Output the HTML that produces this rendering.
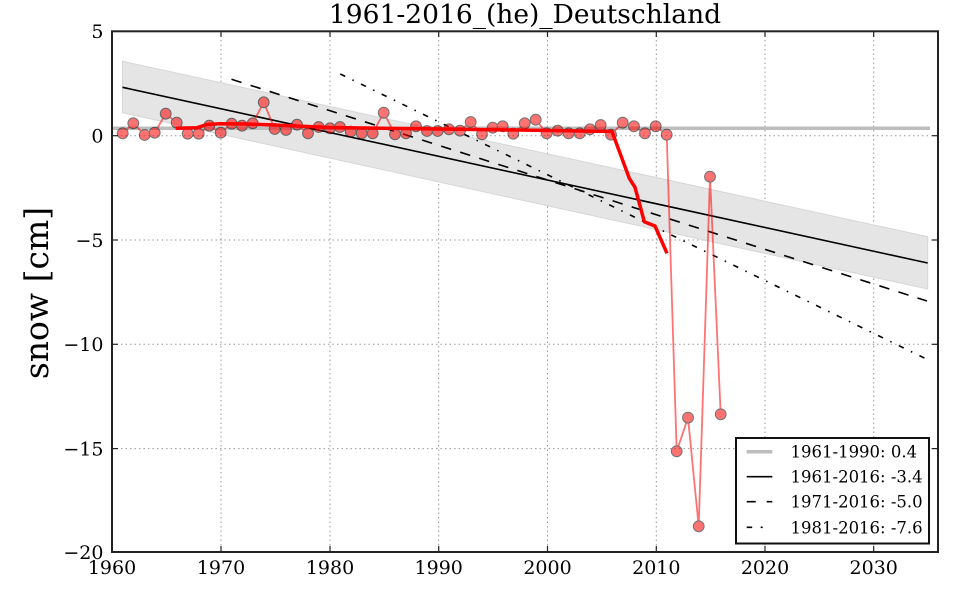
<!DOCTYPE html>
<html><head><meta charset="utf-8"><style>
html,body{margin:0;padding:0;background:#fff;width:960px;height:600px;overflow:hidden}
svg{display:block}
text{font-family:"DejaVu Serif","Liberation Serif",serif;fill:#000}
</style></head><body>
<svg width="960" height="600" viewBox="0 0 960 600" xmlns="http://www.w3.org/2000/svg">
<rect width="960" height="600" fill="#fff"/>
<!-- grid -->
<g stroke="#9a9a9a" stroke-width="1" stroke-dasharray="1.5 3" fill="none">
<line x1="221" y1="31" x2="221" y2="552"/>
<line x1="330" y1="31" x2="330" y2="552"/>
<line x1="438.7" y1="31" x2="438.7" y2="552"/>
<line x1="547.5" y1="31" x2="547.5" y2="552"/>
<line x1="656.3" y1="31" x2="656.3" y2="552"/>
<line x1="765" y1="31" x2="765" y2="552"/>
<line x1="873.7" y1="31" x2="873.7" y2="552"/>
<line x1="112" y1="135.7" x2="938" y2="135.7"/>
<line x1="112" y1="240" x2="938" y2="240"/>
<line x1="112" y1="344.3" x2="938" y2="344.3"/>
<line x1="112" y1="448.6" x2="938" y2="448.6"/>
</g>
<!-- confidence band -->
<polygon points="122.5,61.3 927.7,236.7 927.7,289 122.5,112.7" fill="#e5e5e5" stroke="#d6d6d6" stroke-width="1"/>
<!-- 1961-1990 mean -->
<line x1="112" y1="128.3" x2="930" y2="128.3" stroke="#bdbdbd" stroke-width="3.5"/>
<!-- trends -->
<line x1="122.5" y1="87.3" x2="927.7" y2="263" stroke="#000" stroke-width="1.6"/>
<line x1="231.5" y1="79.3" x2="927" y2="301" stroke="#000" stroke-width="1.6" stroke-dasharray="10.5 9.5"/>
<line x1="340.3" y1="74" x2="927" y2="359.3" stroke="#000" stroke-width="1.6" stroke-dasharray="5.5 8 1.5 8"/>
<!-- data -->
<g opacity="0.55">
<polyline fill="none" stroke="#ff0000" stroke-width="1.8" points="122.7,133.3 133.3,123.3 144.7,135 154.7,132.7 165.7,113.7 176.7,122.7 187.7,133.7 198.7,133.7 209.3,125.7 220.7,132.7 231.7,123.7 242,125.7 252.7,123.3 263.7,102.3 274.7,129 286,130 297,124.7 308,133.3 318.7,127 330,128.3 340,127 350.7,131.7 361.7,133.3 372.7,133.3 383.7,112.7 395,134.3 406,133.3 416,126.3 427,131 437.7,131 449,129.3 460,130.7 470.7,122 482,134.3 492.7,127.7 502.7,126.3 513.3,133.7 524.7,123.3 535.7,119.7 546.7,133.3 557.7,130.7 568.7,133.3 579.7,133.3 590,129.3 600.7,125 611,134.7 622.7,122.7 634,126.3 645,133.3 655.7,126.3 666.7,134.7 676.7,451.3 688,417.7 698.7,526.3 710,176.7 720.7,414.3"/>
<g fill="#ff0000" stroke="#000" stroke-width="1">
<circle cx="122.7" cy="133.3" r="5.4"/><circle cx="133.3" cy="123.3" r="5.4"/><circle cx="144.7" cy="135" r="5.4"/><circle cx="154.7" cy="132.7" r="5.4"/><circle cx="165.7" cy="113.7" r="5.4"/><circle cx="176.7" cy="122.7" r="5.4"/><circle cx="187.7" cy="133.7" r="5.4"/><circle cx="198.7" cy="133.7" r="5.4"/><circle cx="209.3" cy="125.7" r="5.4"/><circle cx="220.7" cy="132.7" r="5.4"/><circle cx="231.7" cy="123.7" r="5.4"/><circle cx="242" cy="125.7" r="5.4"/><circle cx="252.7" cy="123.3" r="5.4"/><circle cx="263.7" cy="102.3" r="5.4"/><circle cx="274.7" cy="129" r="5.4"/><circle cx="286" cy="130" r="5.4"/><circle cx="297" cy="124.7" r="5.4"/><circle cx="308" cy="133.3" r="5.4"/><circle cx="318.7" cy="127" r="5.4"/><circle cx="330" cy="128.3" r="5.4"/><circle cx="340" cy="127" r="5.4"/><circle cx="350.7" cy="131.7" r="5.4"/><circle cx="361.7" cy="133.3" r="5.4"/><circle cx="372.7" cy="133.3" r="5.4"/><circle cx="383.7" cy="112.7" r="5.4"/><circle cx="395" cy="134.3" r="5.4"/><circle cx="406" cy="133.3" r="5.4"/><circle cx="416" cy="126.3" r="5.4"/><circle cx="427" cy="131" r="5.4"/><circle cx="437.7" cy="131" r="5.4"/><circle cx="449" cy="129.3" r="5.4"/><circle cx="460" cy="130.7" r="5.4"/><circle cx="470.7" cy="122" r="5.4"/><circle cx="482" cy="134.3" r="5.4"/><circle cx="492.7" cy="127.7" r="5.4"/><circle cx="502.7" cy="126.3" r="5.4"/><circle cx="513.3" cy="133.7" r="5.4"/><circle cx="524.7" cy="123.3" r="5.4"/><circle cx="535.7" cy="119.7" r="5.4"/><circle cx="546.7" cy="133.3" r="5.4"/><circle cx="557.7" cy="130.7" r="5.4"/><circle cx="568.7" cy="133.3" r="5.4"/><circle cx="579.7" cy="133.3" r="5.4"/><circle cx="590" cy="129.3" r="5.4"/><circle cx="600.7" cy="125" r="5.4"/><circle cx="611" cy="134.7" r="5.4"/><circle cx="622.7" cy="122.7" r="5.4"/><circle cx="634" cy="126.3" r="5.4"/><circle cx="645" cy="133.3" r="5.4"/><circle cx="655.7" cy="126.3" r="5.4"/><circle cx="666.7" cy="134.7" r="5.4"/><circle cx="676.7" cy="451.3" r="5.4"/><circle cx="688" cy="417.7" r="5.4"/><circle cx="698.7" cy="526.3" r="5.4"/><circle cx="710" cy="176.7" r="5.4"/><circle cx="720.7" cy="414.3" r="5.4"/>
</g>
</g>
<!-- running mean -->
<polyline fill="none" stroke="#ff0000" stroke-width="3.5" stroke-linejoin="round" points="175.7,128.3 197,127.7 207,124.5 220,123.8 245,124 275,125 330,127.5 440,129 550,130.5 612,131.5 629.3,178.3 635,187.3 644.3,221.7 655,226 667,253.3"/>
<!-- ticks -->
<g stroke="#222" stroke-width="1.2">
<line x1="221" y1="552" x2="221" y2="546"/><line x1="330" y1="552" x2="330" y2="546"/><line x1="438.7" y1="552" x2="438.7" y2="546"/><line x1="547.5" y1="552" x2="547.5" y2="546"/><line x1="656.3" y1="552" x2="656.3" y2="546"/><line x1="765" y1="552" x2="765" y2="546"/><line x1="873.7" y1="552" x2="873.7" y2="546"/>
<line x1="221" y1="31" x2="221" y2="37"/><line x1="330" y1="31" x2="330" y2="37"/><line x1="438.7" y1="31" x2="438.7" y2="37"/><line x1="547.5" y1="31" x2="547.5" y2="37"/><line x1="656.3" y1="31" x2="656.3" y2="37"/><line x1="765" y1="31" x2="765" y2="37"/><line x1="873.7" y1="31" x2="873.7" y2="37"/>
<line x1="112" y1="135.7" x2="118" y2="135.7"/><line x1="112" y1="240" x2="118" y2="240"/><line x1="112" y1="344.3" x2="118" y2="344.3"/><line x1="112" y1="448.6" x2="118" y2="448.6"/>
<line x1="938" y1="135.7" x2="932" y2="135.7"/><line x1="938" y1="240" x2="932" y2="240"/><line x1="938" y1="344.3" x2="932" y2="344.3"/><line x1="938" y1="448.6" x2="932" y2="448.6"/>
</g>
<!-- spines -->
<rect x="112" y="31.3" width="826" height="520.7" fill="none" stroke="#222" stroke-width="2"/>
<!-- legend -->
<rect x="736" y="438" width="193" height="105.5" fill="#fff" stroke="#111" stroke-width="2"/>
<line x1="746.7" y1="451.7" x2="772.3" y2="451.7" stroke="#bdbdbd" stroke-width="3.5"/>
<line x1="746.7" y1="476.7" x2="772.3" y2="476.7" stroke="#000" stroke-width="1.6"/>
<line x1="746.7" y1="501.7" x2="772.3" y2="501.7" stroke="#000" stroke-width="1.6" stroke-dasharray="9 11"/>
<line x1="746.7" y1="527.3" x2="772.3" y2="527.3" stroke="#000" stroke-width="1.6" stroke-dasharray="5.5 8.5 2 20"/>
<g font-size="16.5">
<text x="790.5" y="457.7">1961-1990: 0.4</text>
<text x="790.5" y="482.7">1961-2016: -3.4</text>
<text x="790.5" y="507.7">1971-2016: -5.0</text>
<text x="790.5" y="533.3">1981-2016: -7.6</text>
</g>
<!-- tick labels -->
<g font-size="19" text-anchor="middle">
<text x="112" y="574">1960</text><text x="221" y="574">1970</text><text x="330" y="574">1980</text><text x="438.7" y="574">1990</text><text x="547.5" y="574">2000</text><text x="656.3" y="574">2010</text><text x="765" y="574">2020</text><text x="873.7" y="574">2030</text>
</g>
<g font-size="19" text-anchor="end">
<text x="103.5" y="38.2">5</text>
<text x="103.5" y="142.6">0</text>
<text x="103.5" y="246.9">−5</text>
<text x="103.5" y="351.2">−10</text>
<text x="103.5" y="455.5">−15</text>
<text x="103.5" y="558.9">−20</text>
</g>
<!-- title -->
<text x="525" y="23" font-size="26.5" text-anchor="middle">1961-2016_(he)_Deutschland</text>
<!-- y label -->
<text x="0" y="0" font-size="33" text-anchor="middle" transform="translate(48,293) rotate(-90)">snow [cm]</text>
</svg>
</body></html>
